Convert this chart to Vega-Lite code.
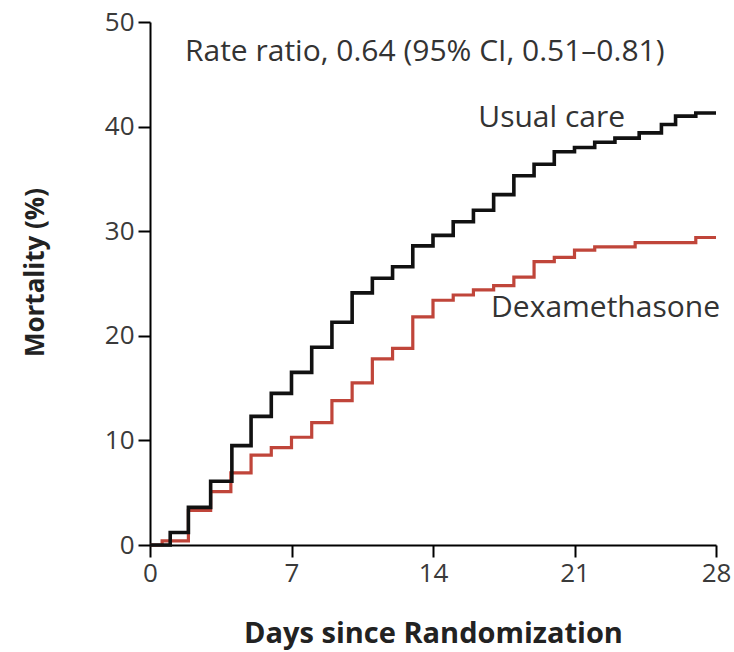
{
  "$schema": "https://vega.github.io/schema/vega-lite/v6.json",
  "width": 566,
  "height": 523,
  "autosize": "none",
  "padding": {"left": 150, "top": 22, "right": 18, "bottom": 107},
  "background": "white",
  "config": {"view": {"stroke": null}, "font": "Open Sans"},
  "datasets": {
    "curves": [
      {"group": "Usual care", "day": 0, "mortality": 0},
      {"group": "Usual care", "day": 1, "mortality": 1.2},
      {"group": "Usual care", "day": 1.9, "mortality": 3.6},
      {"group": "Usual care", "day": 3, "mortality": 6.1},
      {"group": "Usual care", "day": 4.05, "mortality": 9.5},
      {"group": "Usual care", "day": 5, "mortality": 12.3},
      {"group": "Usual care", "day": 6, "mortality": 14.5},
      {"group": "Usual care", "day": 7, "mortality": 16.5},
      {"group": "Usual care", "day": 8, "mortality": 18.9},
      {"group": "Usual care", "day": 9, "mortality": 21.3},
      {"group": "Usual care", "day": 10, "mortality": 24.1},
      {"group": "Usual care", "day": 11, "mortality": 25.5},
      {"group": "Usual care", "day": 12, "mortality": 26.6},
      {"group": "Usual care", "day": 13, "mortality": 28.6},
      {"group": "Usual care", "day": 14, "mortality": 29.6},
      {"group": "Usual care", "day": 15, "mortality": 30.9},
      {"group": "Usual care", "day": 16, "mortality": 32.0},
      {"group": "Usual care", "day": 17, "mortality": 33.5},
      {"group": "Usual care", "day": 18, "mortality": 35.3},
      {"group": "Usual care", "day": 19, "mortality": 36.4},
      {"group": "Usual care", "day": 20, "mortality": 37.6},
      {"group": "Usual care", "day": 21, "mortality": 38.0},
      {"group": "Usual care", "day": 22, "mortality": 38.5},
      {"group": "Usual care", "day": 23, "mortality": 38.9},
      {"group": "Usual care", "day": 24.2, "mortality": 39.4},
      {"group": "Usual care", "day": 25.3, "mortality": 40.2},
      {"group": "Usual care", "day": 26, "mortality": 41.0},
      {"group": "Usual care", "day": 27, "mortality": 41.3},
      {"group": "Usual care", "day": 28, "mortality": 41.3},
      {"group": "Dexamethasone", "day": 0, "mortality": 0},
      {"group": "Dexamethasone", "day": 0.6, "mortality": 0.4},
      {"group": "Dexamethasone", "day": 1.9, "mortality": 3.3},
      {"group": "Dexamethasone", "day": 3, "mortality": 5.1},
      {"group": "Dexamethasone", "day": 4, "mortality": 6.9},
      {"group": "Dexamethasone", "day": 5, "mortality": 8.6},
      {"group": "Dexamethasone", "day": 6, "mortality": 9.3},
      {"group": "Dexamethasone", "day": 7, "mortality": 10.3},
      {"group": "Dexamethasone", "day": 8, "mortality": 11.7},
      {"group": "Dexamethasone", "day": 9, "mortality": 13.8},
      {"group": "Dexamethasone", "day": 10, "mortality": 15.5},
      {"group": "Dexamethasone", "day": 11, "mortality": 17.8},
      {"group": "Dexamethasone", "day": 12, "mortality": 18.8},
      {"group": "Dexamethasone", "day": 13, "mortality": 21.8},
      {"group": "Dexamethasone", "day": 14, "mortality": 23.4},
      {"group": "Dexamethasone", "day": 15, "mortality": 23.9},
      {"group": "Dexamethasone", "day": 16, "mortality": 24.4},
      {"group": "Dexamethasone", "day": 17, "mortality": 24.8},
      {"group": "Dexamethasone", "day": 18, "mortality": 25.6},
      {"group": "Dexamethasone", "day": 19, "mortality": 27.1},
      {"group": "Dexamethasone", "day": 20, "mortality": 27.5},
      {"group": "Dexamethasone", "day": 21, "mortality": 28.2},
      {"group": "Dexamethasone", "day": 22, "mortality": 28.5},
      {"group": "Dexamethasone", "day": 24, "mortality": 28.9},
      {"group": "Dexamethasone", "day": 27, "mortality": 29.4},
      {"group": "Dexamethasone", "day": 28, "mortality": 29.4}
    ],
    "labels": [
      {"label": "Rate ratio, 0.64 (95% CI, 0.51–0.81)", "day": 1.73, "mortality": 47.1, "side": "left"},
      {"label": "Usual care", "day": 23.5, "mortality": 40.8, "side": "right"},
      {"label": "Dexamethasone", "day": 28.2, "mortality": 22.7, "side": "right"}
    ]
  },
  "layer": [
    {
      "data": {"name": "curves"},
      "transform": [{"filter": "datum.group === 'Dexamethasone'"}],
      "mark": {"type": "line", "interpolate": "step-after", "color": "#c0453a", "strokeWidth": 3.2, "clip": false},
      "encoding": {
        "x": {
          "field": "day", "type": "quantitative",
          "scale": {"domain": [0, 28], "nice": false, "zero": false},
          "axis": {
            "values": [0, 7, 14, 21, 28],
            "title": "Days since Randomization",
            "grid": false,
            "domainColor": "black", "domainWidth": 2,
            "tickColor": "black", "tickWidth": 2, "tickSize": 12,
            "labelFont": "Open Sans", "labelFontSize": 26, "labelColor": "#3a3a3a", "labelPadding": 3,
            "labelFlush": false,
            "titleFont": "Open Sans", "titleFontSize": 29, "titleFontWeight": "bold", "titleColor": "#222",
            "titleY": 88, "titleBaseline": "middle"
          }
        },
        "y": {
          "field": "mortality", "type": "quantitative",
          "scale": {"domain": [0, 50], "nice": false},
          "axis": {
            "values": [0, 10, 20, 30, 40, 50],
            "title": "Mortality (%)",
            "grid": false,
            "domainColor": "black", "domainWidth": 2,
            "tickColor": "black", "tickWidth": 2, "tickSize": 12,
            "labelFont": "Open Sans", "labelFontSize": 26, "labelColor": "#3a3a3a", "labelPadding": 4,
            "labelFlush": false,
            "titleFont": "Open Sans", "titleFontSize": 26, "titleFontWeight": "bold", "titleColor": "#222",
            "titleX": -115, "titleY": 250, "titleAngle": -90, "titleAlign": "center", "titleBaseline": "middle"
          }
        }
      }
    },
    {
      "data": {"name": "curves"},
      "transform": [{"filter": "datum.group === 'Usual care'"}],
      "mark": {"type": "line", "interpolate": "step-after", "color": "#111111", "strokeWidth": 3.6, "clip": false},
      "encoding": {
        "x": {"field": "day", "type": "quantitative"},
        "y": {"field": "mortality", "type": "quantitative"}
      }
    },
    {
      "data": {"name": "labels"},
      "transform": [{"filter": "datum.side === 'left'"}],
      "mark": {"type": "text", "font": "Open Sans", "fontSize": 30, "color": "#333333", "baseline": "middle", "align": "left"},
      "encoding": {
        "x": {"field": "day", "type": "quantitative"},
        "y": {"field": "mortality", "type": "quantitative"},
        "text": {"field": "label"}
      }
    },
    {
      "data": {"name": "labels"},
      "transform": [{"filter": "datum.side === 'right'"}],
      "mark": {"type": "text", "font": "Open Sans", "fontSize": 30, "color": "#333333", "baseline": "middle", "align": "right"},
      "encoding": {
        "x": {"field": "day", "type": "quantitative"},
        "y": {"field": "mortality", "type": "quantitative"},
        "text": {"field": "label"}
      }
    }
  ]
}
